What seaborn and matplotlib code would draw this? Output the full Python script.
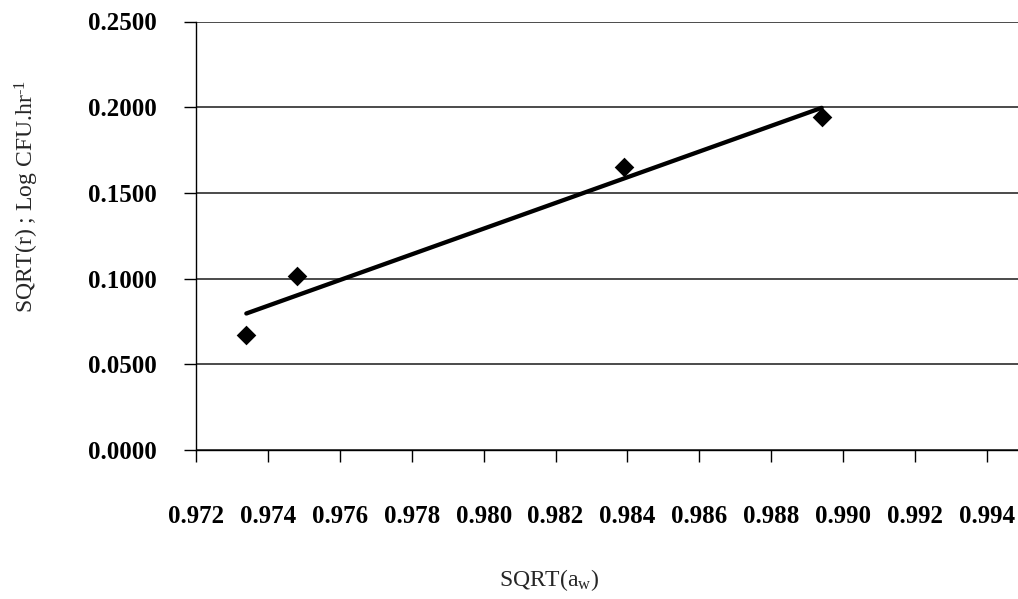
import numpy as np
import pandas as pd
import matplotlib
matplotlib.use("Agg")
import matplotlib.pyplot as plt
from matplotlib.ticker import FormatStrFormatter
import seaborn as sns

# Square root of water activity vs square root of growth rate
sqrt_aw = [0.9734, 0.9748, 0.9839, 0.9894]
sqrt_rate = [0.0669, 0.1015, 0.1653, 0.1941]

x_ticks = [0.972, 0.974, 0.976, 0.978, 0.980, 0.982, 0.984,
           0.986, 0.988, 0.990, 0.992, 0.994]
y_ticks = [0.0, 0.05, 0.10, 0.15, 0.20, 0.25]

df = pd.DataFrame({"sqrt_aw": sqrt_aw, "sqrt_rate": sqrt_rate})

sns.set_style("ticks")
plt.rcParams["font.family"] = ["Liberation Serif", "DejaVu Serif"]
plt.rcParams["mathtext.fontset"] = "custom"
plt.rcParams["mathtext.rm"] = "Liberation Serif"
plt.rcParams["mathtext.it"] = "Liberation Serif:italic"
plt.rcParams["mathtext.bf"] = "Liberation Serif:bold"

fig = plt.figure(figsize=(10.18, 5.99), dpi=100, facecolor="white")
ax = fig.add_axes([196 / 1018, 1 - 450 / 599, 822 / 1018, 428.5 / 599])

sns.regplot(
    data=df, x="sqrt_aw", y="sqrt_rate", ax=ax, ci=None, truncate=True,
    marker="D",
    scatter_kws={"s": 100, "color": "black", "alpha": 1.0,
                 "linewidths": 0, "zorder": 4},
    line_kws={"color": "black", "linewidth": 3.1, "solid_capstyle": "round",
              "zorder": 3},
)

ax.set_xlim(0.972, 0.972 + 822 / 35955)
ax.set_ylim(0, 0.25)
ax.set_xticks(x_ticks)
ax.set_yticks(y_ticks)
ax.xaxis.set_major_formatter(FormatStrFormatter("%.3f"))
ax.yaxis.set_major_formatter(FormatStrFormatter("%.4f"))

ax.grid(axis="y", color="#1a1a1a", linewidth=1.1)
ax.grid(axis="x", visible=False)
ax.set_axisbelow(True)

for side in ("top", "right"):
    ax.spines[side].set_visible(False)
for side in ("left", "bottom"):
    ax.spines[side].set_color("black")
    ax.spines[side].set_linewidth(1.0)

ax.tick_params(axis="both", direction="out", length=8.6, width=1.0,
               color="black", labelcolor="black", labelsize=18)
ax.tick_params(axis="y", pad=19.5)
ax.tick_params(axis="x", pad=31)
for lbl in ax.get_xticklabels() + ax.get_yticklabels():
    lbl.set_fontweight("bold")

ax.set_xlabel(r"SQRT(a$_{\mathrm{w}}$)", fontsize=17)
ax.set_ylabel(r"SQRT(r) ; Log CFU.hr$^{\text{-1}}$", fontsize=17)
ax.xaxis.set_label_coords((549 - 196) / 822, (450 - 567) / 428.5)
ax.yaxis.set_label_coords((41 - 196) / 822, (450 - 197) / 428.5)

fig.savefig("out.png", dpi=100, facecolor="white")
